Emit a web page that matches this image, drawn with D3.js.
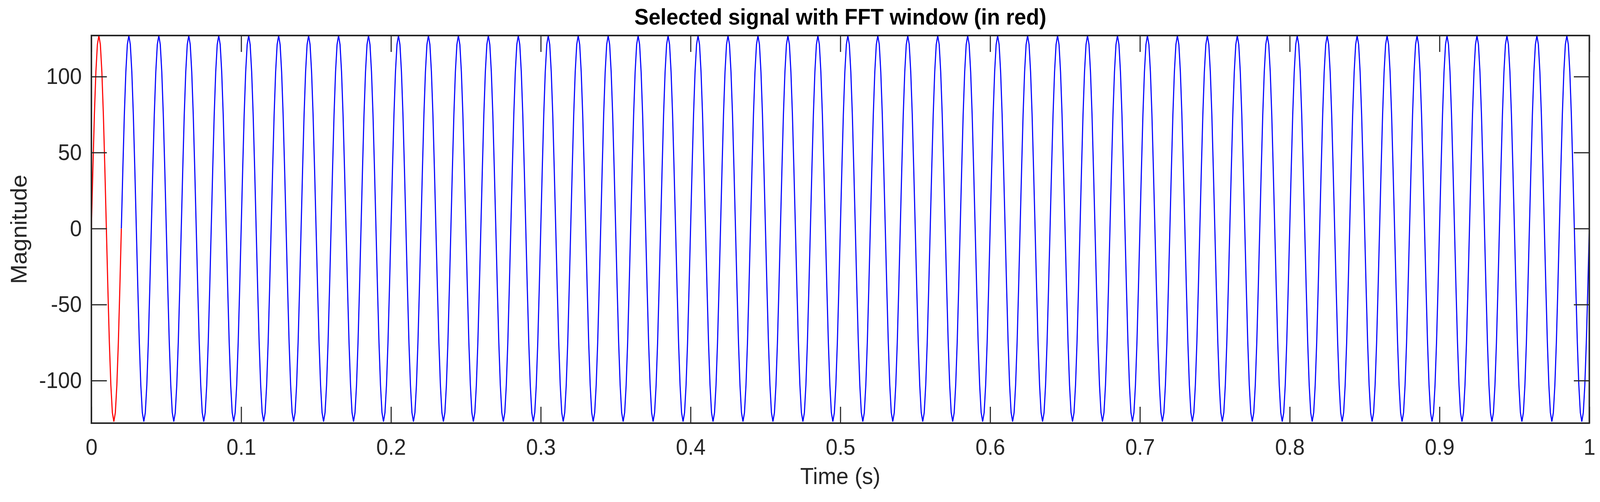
<!DOCTYPE html>
<html><head><meta charset="utf-8">
<script src="https://cdn.jsdelivr.net/npm/d3@7"></script>
<style>html,body{margin:0;padding:0;background:#fff;overflow:hidden}svg{display:block;width:100vw;height:100vh}text{font-family:"Liberation Sans",Arial,sans-serif;fill:#262626}</style>
</head><body><svg id="c" viewBox="0 0 4342 1286" preserveAspectRatio="none"></svg>
<script>
// one period of the signal (samples 1 ms apart)
const cycleValues = [0,39,75,103,121,127,121,103,75,39,0,-39,-75,-103,-121,-127,-121,-103,-75,-39];
const numCycles = 50;          // 50 periods within 1 s
const sampleStep = 0.001;      // s
const windowEnd = 0.02;        // FFT window (red) end, s
const xTicks = [0,0.1,0.2,0.3,0.4,0.5,0.6,0.7,0.8,0.9,1];
const xTickLabels = ["0","0.1","0.2","0.3","0.4","0.5","0.6","0.7","0.8","0.9","1"];
const yTicks = [-100,-50,0,50,100];
const yTickLabels = ["-100","-50","0","50","100"];
const yDomain = [-128,127];

const signal = [];
for (let c = 0; c < numCycles; c++) cycleValues.forEach((v,i)=>signal.push({t:(c*cycleValues.length+i)*sampleStep, v}));
signal.push({t:1, v:cycleValues[0]});

const L=248,R=4313,T=91,B=1084;
const svg=d3.select("#c");
const x=d3.scaleLinear().domain([0,1]).range([L,R]);
const y=d3.scaleLinear().domain(yDomain).range([B,T]);
const line=d3.line().x(d=>x(d.t)).y(d=>y(d.v));

svg.append("defs").append("clipPath").attr("id","clip").append("rect").attr("x",L).attr("y",T).attr("width",R-L).attr("height",B-T);
const g=svg.append("g").attr("clip-path","url(#clip)");
g.append("path").datum(signal.filter(d=>d.t>=windowEnd)).attr("d",line).attr("fill","none").attr("stroke","#0000ff").attr("stroke-width",3);
g.append("path").datum(signal.filter(d=>d.t<=windowEnd)).attr("d",line).attr("fill","none").attr("stroke","#ff0000").attr("stroke-width",3);

const tk=42, col="#262626";
const fx=d=>xTickLabels[xTicks.indexOf(d)];
const fy=d=>yTickLabels[yTicks.indexOf(d)];
svg.append("g").attr("transform",`translate(0,${B})`).call(d3.axisBottom(x).tickValues(xTicks).tickFormat(fx).tickSizeInner(-tk).tickSizeOuter(0).tickPadding(40))
 .call(a=>{a.select(".domain").remove();a.selectAll("line").attr("stroke",col).attr("stroke-width",3);a.selectAll("text").attr("font-size",58).attr("fill",col);});
svg.append("g").attr("transform",`translate(0,${T})`).call(d3.axisTop(x).tickValues(xTicks).tickFormat("").tickSizeInner(-tk).tickSizeOuter(0))
 .call(a=>{a.select(".domain").remove();a.selectAll("line").attr("stroke",col).attr("stroke-width",3);});
svg.append("g").attr("transform",`translate(${L},0)`).call(d3.axisLeft(y).tickValues(yTicks).tickFormat(fy).tickSizeInner(-tk).tickSizeOuter(0).tickPadding(26))
 .call(a=>{a.select(".domain").remove();a.selectAll("line").attr("stroke",col).attr("stroke-width",3);a.selectAll("text").attr("font-size",58).attr("fill",col);});
svg.append("g").attr("transform",`translate(${R},0)`).call(d3.axisRight(y).tickValues(yTicks).tickFormat("").tickSizeInner(-tk).tickSizeOuter(0))
 .call(a=>{a.select(".domain").remove();a.selectAll("line").attr("stroke",col).attr("stroke-width",3);});
svg.append("rect").attr("x",L).attr("y",T).attr("width",R-L).attr("height",B-T).attr("fill","none").attr("stroke",col).attr("stroke-width",4);

svg.append("text").attr("x",(L+R)/2).attr("y",63).attr("text-anchor","middle").attr("font-size",58).attr("font-weight","bold").style("fill","#000").text("Selected signal with FFT window (in red)");
svg.append("text").attr("x",(L+R)/2).attr("y",1240).attr("text-anchor","middle").attr("font-size",60).text("Time (s)");
svg.append("text").attr("transform",`translate(72,${(T+B)/2}) rotate(-90)`).attr("text-anchor","middle").attr("font-size",60).text("Magnitude");
</script></body></html>
